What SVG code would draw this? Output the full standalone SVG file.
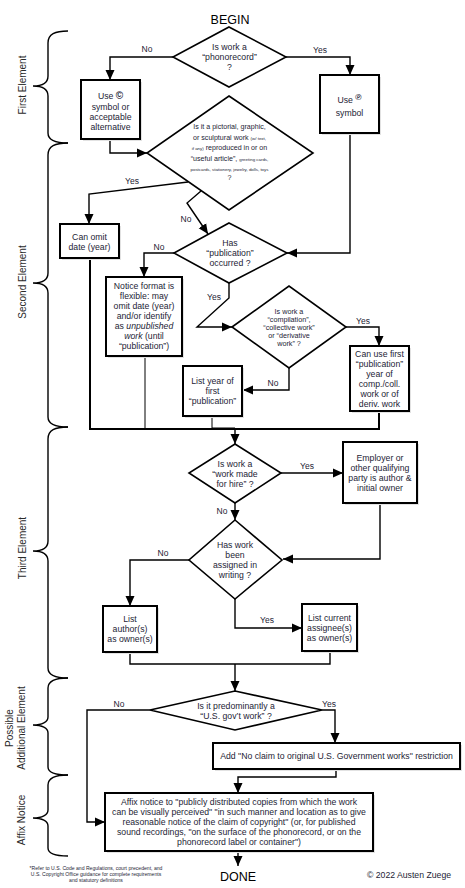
<svg xmlns="http://www.w3.org/2000/svg" width="465" height="888" viewBox="0 0 465 888">
<style>
text{font-family:"Liberation Sans",Arial,sans-serif;fill:#1d1d35;text-anchor:middle;dominant-baseline:central;font-size:8.7px}
.box{fill:#fff;stroke:#000;stroke-width:2}
.shadow{fill:#e2e2e2;stroke:none}
.dia{fill:#fff;stroke:#000;stroke-width:1.6}
.c{fill:none;stroke:#000;stroke-width:1.4}
.thick{fill:none;stroke:#000;stroke-width:2}
.thin{fill:none;stroke:#000;stroke-width:1}
.brace{fill:none;stroke:#000;stroke-width:1.4}
.lbl{font-size:8.5px}
.sec{font-size:10px;fill:#2a2a2a}
.big{font-size:12.5px;fill:#000}
.d2{font-size:7.1px}
.sm{font-size:4.4px}
.d4{font-size:7.2px}
.foot{font-size:5.1px}
</style>
<defs>
<marker id="ah" markerUnits="userSpaceOnUse" markerWidth="10" markerHeight="10" refX="10" refY="5" orient="auto">
<path d="M0,0.5 L10,5 L0,9.5 z" fill="#000"/>
</marker>
</defs>

<g id="braces">
<path class="brace" d="M68,31 C55,31 48,34 48,43 L48,76 C48,83 42,86 33,86 C42,86 48,89 48,96 L48,133 C48,140 55,143 68,143"/>
<path class="brace" d="M68,143 C55,143 48,146 48,155 L48,273 C48,280 42,283 33,283 C42,283 48,286 48,293 L48,417 C48,424 55,427 68,427"/>
<path class="brace" d="M68,427 C55,427 48,430 48,439 L48,541 C48,548 42,551 33,551 C42,551 48,554 48,561 L48,668 C48,675 55,678 68,678"/>
<path class="brace" d="M68,678 C55,678 48,681 48,688 L48,717 C48,722 42,725 33,725 C42,725 48,728 48,733 L48,767 C48,772 55,775 68,775"/>
<path class="brace" d="M68,775 C55,775 48,778 48,785 L48,810 C48,815 42,818 33,818 C42,818 48,821 48,826 L48,848 C48,853 55,856 68,856"/>
<text class="sec" transform="translate(22,85) rotate(-90)">First Element</text>
<text class="sec" transform="translate(22,282) rotate(-90)">Second Element</text>
<text class="sec" transform="translate(22,548) rotate(-90)">Third Element</text>
<text class="sec" transform="translate(15,728) rotate(-90)"><tspan x="0" y="-6">Possible</tspan><tspan x="0" y="6">Additional Element</tspan></text>
<text class="sec" transform="translate(21,820) rotate(-90)">Affix Notice</text>
</g>

<g id="connectors">
<polyline class="c" points="173,57 110,57 110,80" marker-end="url(#ah)"/>
<polyline class="c" points="286,57 350,57 350,75" marker-end="url(#ah)"/>
<polyline class="c" points="110,139 110,153 147,153" marker-end="url(#ah)"/>
<polyline class="c" points="350,133 350,253 287,253" marker-end="url(#ah)"/>
<polyline class="c" points="188,182 89,194 89,224" marker-end="url(#ah)"/>
<polyline class="c" points="201,191 187,203 208,234" marker-end="url(#ah)"/>
<polyline class="c" points="174,253 144,253 144,277" marker-end="url(#ah)"/>
<polyline class="c" points="229,283 229,298 197,327 232,327" marker-end="url(#ah)"/>
<polyline class="c" points="346,327 379,327 379,346" marker-end="url(#ah)"/>
<polyline class="c" points="289,368 289,390 243,390" marker-end="url(#ah)"/>
<polyline class="thick" points="90,258 90,429 379,429 379,411"/>
<line class="thin" x1="145" y1="356" x2="145" y2="429"/>
<polyline class="thin" points="212,416 212,428 235,428"/>
<polyline class="c" points="235,429 235,444" marker-end="url(#ah)"/>
<polyline class="c" points="281,473 343,473" marker-end="url(#ah)"/>
<polyline class="c" points="235,503 235,520" marker-end="url(#ah)"/>
<polyline class="c" points="380,503 380,559 283,559" marker-end="url(#ah)"/>
<polyline class="c" points="189,560 130,560 130,606" marker-end="url(#ah)"/>
<polyline class="c" points="235,599 235,628 302,628" marker-end="url(#ah)"/>
<polyline class="c" points="130,652 130,664 330,664 330,651"/>
<polyline class="c" points="235,664 235,691" marker-end="url(#ah)"/>
<polyline class="c" points="150,710 87,710 87,822 105,822" marker-end="url(#ah)"/>
<polyline class="c" points="322,710 335,710 335,743" marker-end="url(#ah)"/>
<polyline class="c" points="336,769 336,777 238,777 238,793" marker-end="url(#ah)"/>
<polyline class="c" points="238,851 238,866" marker-end="url(#ah)"/>
<text class="lbl" x="147" y="49">No</text>
<text class="lbl" x="320" y="50">Yes</text>
<text class="lbl" x="132" y="181">Yes</text>
<text class="lbl" x="186" y="219">No</text>
<text class="lbl" x="159" y="247">No</text>
<text class="lbl" x="214" y="297">Yes</text>
<text class="lbl" x="363" y="321">Yes</text>
<text class="lbl" x="273" y="383">No</text>
<text class="lbl" x="307" y="466">Yes</text>
<text class="lbl" x="222" y="511">No</text>
<text class="lbl" x="163" y="553">No</text>
<text class="lbl" x="267" y="620">Yes</text>
<text class="lbl" x="119" y="704">No</text>
<text class="lbl" x="329" y="704">Yes</text>
</g>

<g id="begin"><text class="big" x="230" y="20">BEGIN</text></g>

<g id="d1">
<polygon class="dia" points="229,27 286,57 229,87 173,57"/>
<text x="229.5" y="47">Is work a</text>
<text x="229.5" y="57">“phonorecord”</text>
<text x="229.5" y="67">?</text>
</g>

<g id="b1">
<rect class="shadow" x="83" y="82" width="59" height="59"/>
<rect class="box" x="81" y="80" width="59" height="59"/>
<text x="110.5" y="96">Use <tspan font-weight="bold" font-size="10" dy="-1">©</tspan></text>
<text x="110.5" y="107">symbol or</text>
<text x="110.5" y="117">acceptable</text>
<text x="110.5" y="127">alternative</text>
</g>

<g id="b2">
<rect class="shadow" x="322" y="77" width="59" height="58"/>
<rect class="box" x="320" y="75" width="59" height="58"/>
<text x="349.5" y="100">Use <tspan font-size="8.5" font-weight="bold" dy="-3">℗</tspan></text>
<text x="349.5" y="113">symbol</text>
</g>

<g id="d2">
<polygon class="dia" points="229,96 313,153 229,210 147,153"/>
<text class="d2" x="229.5" y="127">Is it a pictorial, graphic,</text>
<text class="d2" x="229.5" y="137.5">or sculptural work <tspan class="sm">(w/ text,</tspan></text>
<text class="d2" x="229.5" y="148"><tspan class="sm">if any)</tspan> reproduced in or on</text>
<text class="d2" x="229.5" y="158.5">“useful article”, <tspan class="sm">greeting cards,</tspan></text>
<text class="sm" x="229.5" y="169">postcards, stationery, jewelry, dolls, toys</text>
<text class="d2" x="229.5" y="177.5">?</text>
</g>

<g id="b3">
<rect class="shadow" x="62" y="226" width="59" height="34"/>
<rect class="box" x="60" y="224" width="59" height="34"/>
<text x="89.5" y="237">Can omit</text>
<text x="89.5" y="247">date (year)</text>
</g>

<g id="d3">
<polygon class="dia" points="229,223 287,253 229,283 174,253"/>
<text x="230" y="243">Has</text>
<text x="230" y="253">“publication”</text>
<text x="230" y="263">occurred ?</text>
</g>

<g id="b4">
<rect class="shadow" x="108" y="279" width="76" height="79"/>
<rect class="box" x="106" y="277" width="76" height="79"/>
<text x="144" y="286">Notice format is</text>
<text x="144" y="296">flexible: may</text>
<text x="144" y="306">omit date (year)</text>
<text x="144" y="316">and/or identify</text>
<text x="144" y="326">as <tspan font-style="italic">unpublished</tspan></text>
<text x="144" y="336"><tspan font-style="italic">work</tspan> (until</text>
<text x="144" y="346">“publication”)</text>
</g>

<g id="d4">
<polygon class="dia" points="232,327 289,286 346,327 289,368"/>
<text class="d4" x="289" y="311">Is work a</text>
<text class="d4" x="289" y="319">“compilation”,</text>
<text class="d4" x="289" y="327">“collective work”</text>
<text class="d4" x="289" y="335">or “derivative</text>
<text class="d4" x="289" y="343">work” ?</text>
</g>

<g id="b5">
<rect class="shadow" x="352" y="348" width="59" height="65"/>
<rect class="box" x="350" y="346" width="59" height="65"/>
<text x="379.5" y="353.5">Can use first</text>
<text x="379.5" y="363.5">“publication”</text>
<text x="379.5" y="373.5">year of</text>
<text x="379.5" y="383.5">comp./coll.</text>
<text x="379.5" y="393.5">work or of</text>
<text x="379.5" y="403.5">deriv. work</text>
</g>

<g id="b6">
<rect class="shadow" x="185" y="368" width="59" height="50"/>
<rect class="box" x="183" y="366" width="59" height="50"/>
<text x="212.5" y="381">List year of</text>
<text x="212.5" y="391">first</text>
<text x="212.5" y="401">“publication”</text>
</g>

<g id="d5">
<polygon class="dia" points="235,444 281,473 235,503 189,473"/>
<text x="235" y="464">Is work a</text>
<text x="235" y="474">“work made</text>
<text x="235" y="484">for hire” ?</text>
</g>

<g id="b7">
<rect class="shadow" x="345" y="444" width="74" height="61"/>
<rect class="box" x="343" y="442" width="74" height="61"/>
<text x="380" y="458">Employer or</text>
<text x="380" y="468">other qualifying</text>
<text x="380" y="478">party is author &amp;</text>
<text x="380" y="488">initial owner</text>
</g>

<g id="d6">
<polygon class="dia" points="235,520 282,560 235,599 189,560"/>
<text x="235" y="545">Has work</text>
<text x="235" y="555">been</text>
<text x="235" y="565">assigned in</text>
<text x="235" y="575">writing ?</text>
</g>

<g id="b8">
<rect class="shadow" x="105" y="608" width="54" height="46"/>
<rect class="box" x="103" y="606" width="54" height="46"/>
<text x="130" y="619">List</text>
<text x="130" y="629">author(s)</text>
<text x="130" y="639">as owner(s)</text>
</g>

<g id="b9">
<rect class="shadow" x="304" y="606" width="55" height="47"/>
<rect class="box" x="302" y="604" width="55" height="47"/>
<text x="329.5" y="618">List current</text>
<text x="329.5" y="628">assignee(s)</text>
<text x="329.5" y="638">as owner(s)</text>
</g>

<g id="d7">
<polygon class="dia" points="235,691 322,710 235,730 150,710"/>
<text x="236" y="706">Is it predominantly a</text>
<text x="236" y="716">“U.S. gov’t work” ?</text>
</g>

<g id="b10">
<rect class="shadow" x="215" y="745" width="247" height="26"/>
<rect class="box" x="213" y="743" width="247" height="26"/>
<text x="336.5" y="756">Add "No claim to original U.S. Government works" restriction</text>
</g>

<g id="b11">
<rect class="shadow" x="107" y="795" width="268" height="58"/>
<rect class="box" x="105" y="793" width="268" height="58"/>
<text x="239" y="802">Affix notice to "publicly distributed copies from which the work</text>
<text x="239" y="812">can be visually perceived" "in such manner and location as to give</text>
<text x="239" y="822">reasonable notice of the claim of copyright" (or, for published</text>
<text x="239" y="832">sound recordings, "on the surface of the phonorecord, or on the</text>
<text x="239" y="842">phonorecord label or container")</text>
</g>

<g id="done"><text class="big" x="238" y="877">DONE</text></g>

<g id="footnote">
<text class="foot" x="96" y="868">*Refer to U.S. Code and Regulations, court precedent, and</text>
<text class="foot" x="96" y="874">U.S. Copyright Office guidance for complete requirements</text>
<text class="foot" x="96" y="880">and statutory definitions</text>
</g>
<g id="copyright"><text x="409" y="875" font-size="7.6">© 2022 Austen Zuege</text></g>
</svg>
